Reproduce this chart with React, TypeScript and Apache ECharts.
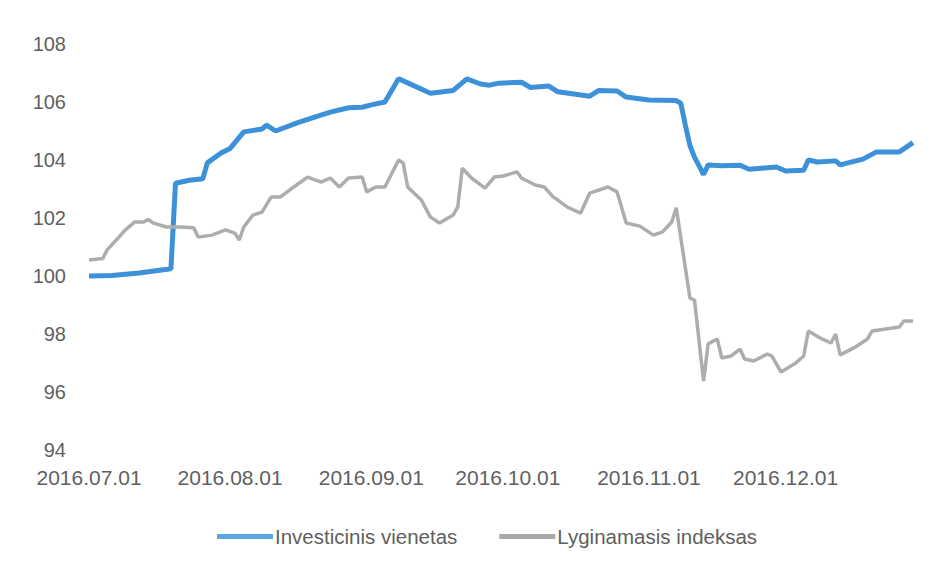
import React, { useEffect, useRef } from "react";
import * as echarts from "echarts";

// x = day offset from 2016-07-01
const monthTickDays = [0, 31, 62, 92, 123, 153];
const monthTickLabels = ["2016.07.01", "2016.08.01", "2016.09.01", "2016.10.01", "2016.11.01", "2016.12.01"];
const yTicks = [94, 96, 98, 100, 102, 104, 106, 108];

const seriesNames = ["Investicinis vienetas", "Lyginamasis indeksas"];

const investDays = [0, 5, 11, 18, 19, 22, 25, 26, 29, 31, 34, 38, 39, 41, 46, 53, 57, 60, 62, 65, 68, 70, 75, 80, 83, 86, 88, 90, 95, 97, 101, 103, 110, 112, 116, 118, 123, 129, 130, 131, 132, 133, 134, 135, 136, 139, 143, 145, 151, 153, 157, 158, 160, 164, 165, 170, 173, 178, 181];
const investValues = [100.0, 100.02, 100.1, 100.25, 103.2, 103.3, 103.35, 103.9, 104.24, 104.4, 104.97, 105.07, 105.2, 105.0, 105.3, 105.65, 105.8, 105.82, 105.9, 106.0, 106.8, 106.66, 106.3, 106.4, 106.8, 106.62, 106.58, 106.65, 106.68, 106.5, 106.55, 106.35, 106.2, 106.4, 106.38, 106.17, 106.07, 106.05, 105.95, 105.2, 104.5, 104.1, 103.8, 103.5, 103.83, 103.8, 103.82, 103.68, 103.76, 103.62, 103.65, 104.0, 103.93, 103.97, 103.83, 104.03, 104.28, 104.28, 104.6];

const indexDays = [0, 3, 4, 6, 8, 10, 12, 13, 14, 17, 20, 23, 24, 27, 30, 32, 33, 34, 36, 38, 40, 42, 45, 48, 51, 53, 55, 57, 60, 61, 63, 65, 68, 69, 70, 73, 75, 77, 80, 81, 82, 84, 87, 89, 91, 94, 95, 98, 100, 102, 103, 105, 108, 110, 114, 116, 118, 121, 124, 126, 128, 129, 132, 133, 135, 136, 138, 139, 141, 143, 144, 146, 149, 150, 152, 155, 157, 158, 161, 163, 164, 165, 168, 171, 172, 175, 178, 179, 181];
const indexValues = [100.55, 100.6, 100.9, 101.24, 101.59, 101.86, 101.86, 101.95, 101.83, 101.69, 101.69, 101.66, 101.34, 101.41, 101.59, 101.48, 101.24, 101.69, 102.1, 102.2, 102.72, 102.72, 103.07, 103.41, 103.24, 103.38, 103.07, 103.38, 103.41, 102.9, 103.07, 103.07, 104.0, 103.9, 103.07, 102.62, 102.03, 101.83, 102.1, 102.38, 103.72, 103.38, 103.03, 103.41, 103.45, 103.59, 103.38, 103.14, 103.07, 102.72, 102.62, 102.38, 102.17, 102.86, 103.07, 102.9, 101.83, 101.72, 101.41, 101.52, 101.86, 102.35, 99.24, 99.17, 96.38, 97.66, 97.83, 97.17, 97.24, 97.48, 97.14, 97.07, 97.31, 97.24, 96.69, 96.97, 97.24, 98.1, 97.83, 97.69, 98.0, 97.28, 97.52, 97.83, 98.1, 98.17, 98.24, 98.45, 98.45];

const FONT = "'Liberation Sans', Arial, sans-serif";
const TEXT = "#5f5f5f";

export default function App() {
  const ref = useRef<HTMLDivElement>(null);
  useEffect(() => {
    document.body.style.margin = "0";
    const chart = echarts.init(ref.current!, undefined, { renderer: "svg" });
    chart.setOption({
      animation: false,
      backgroundColor: "#ffffff",
      grid: { left: 89, right: 17, top: 44, bottom: 119 },
      xAxis: {
        type: "value",
        min: 0,
        max: 181,
        axisLine: { show: false },
        axisTick: { show: false },
        splitLine: { show: false },
        axisLabel: {
          customValues: monthTickDays,
          formatter: (v: number) => {
            const i = monthTickDays.indexOf(Math.round(v));
            return i >= 0 ? monthTickLabels[i] : "";
          },
          color: TEXT,
          fontFamily: FONT,
          fontSize: 21,
          margin: 17,
        },
      },
      yAxis: {
        type: "value",
        min: yTicks[0],
        max: yTicks[yTicks.length - 1],
        interval: 2,
        axisLine: { show: false },
        axisTick: { show: false },
        splitLine: { show: false },
        axisLabel: { color: TEXT, fontFamily: FONT, fontSize: 20, margin: 23 },
      },
      legend: {
        left: 212,
        top: 521,
        itemWidth: 56,
        itemHeight: 5,
        itemGap: 42,
        icon: "rect",
        textStyle: { color: TEXT, fontFamily: FONT, fontSize: 20.5, padding: [0, 0, 0, -3] },
        data: seriesNames,
      },
      series: [
        {
          name: seriesNames[0],
          type: "line",
          data: investDays.map((d, i) => [d, investValues[i]]),
          showSymbol: false,
          symbol: "none",
          lineStyle: { color: "#3C91D9", width: 5 },
          itemStyle: { color: "#5AA7E3" },
        },
        {
          name: seriesNames[1],
          type: "line",
          data: indexDays.map((d, i) => [d, indexValues[i]]),
          showSymbol: false,
          symbol: "none",
          lineStyle: { color: "#ADADAD", width: 3.5 },
          itemStyle: { color: "#A8A8A8" },
        },
      ],
    });
    return () => chart.dispose();
  }, []);
  return <div ref={ref} style={{ width: 930, height: 569 }} />;
}
